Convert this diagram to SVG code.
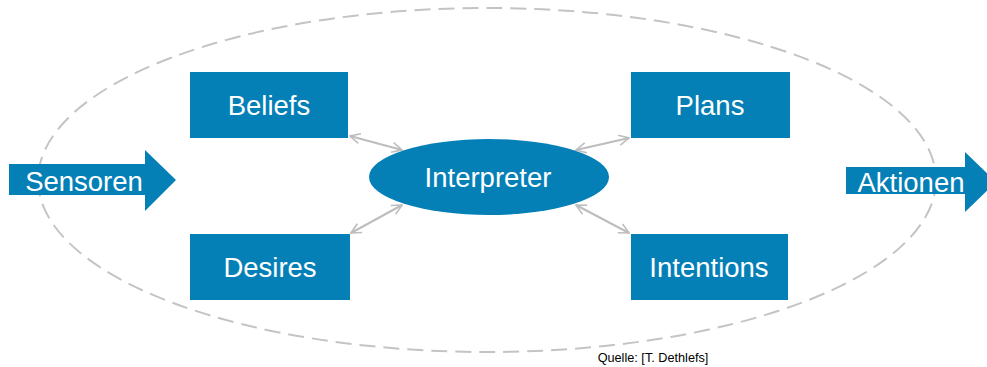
<svg xmlns="http://www.w3.org/2000/svg" width="987" height="367" viewBox="0 0 987 367">
<defs>
<style>
.box{fill:#0580b7}
.lbl{font-family:"Liberation Sans",Arial,sans-serif;font-size:27.5px;fill:#fff;text-anchor:middle}
.con{stroke:#bdbdbd;stroke-width:2;fill:none;marker-start:url(#ah);marker-end:url(#ah)}
</style>
<marker id="ah" viewBox="0 0 12 12" refX="11" refY="6" markerWidth="12" markerHeight="12" markerUnits="userSpaceOnUse" orient="auto-start-reverse">
<path d="M1,1 L11,6 L1,11" fill="none" stroke="#bdbdbd" stroke-width="1.6"/>
</marker>
</defs>
<rect width="987" height="367" fill="#fff"/>
<ellipse cx="487" cy="180" rx="449" ry="172" fill="none" stroke="#c4c4c4" stroke-width="2" stroke-dasharray="16,8"/>
<g id="connectors">
<line class="con" x1="350" y1="136" x2="402" y2="150"/>
<line class="con" x1="629" y1="138" x2="576" y2="150"/>
<line class="con" x1="351" y1="233" x2="402" y2="205"/>
<line class="con" x1="629" y1="233" x2="576" y2="205"/>
</g>
<g id="sensoren">
<polygon class="box" points="9,164 145,164 145,150 176,180 145,211 145,195 9,195"/>
<text class="lbl" x="84" y="191">Sensoren</text>
</g>
<g id="aktionen">
<polygon class="box" points="846,167 965,167 965,152 996,182 965,212 965,194 846,194"/>
<text class="lbl" x="911" y="192">Aktionen</text>
</g>
<g id="beliefs">
<rect class="box" x="190" y="72" width="158" height="66"/>
<text class="lbl" x="269" y="115">Beliefs</text>
</g>
<g id="plans">
<rect class="box" x="631" y="72" width="159" height="66"/>
<text class="lbl" x="710" y="115">Plans</text>
</g>
<g id="desires">
<rect class="box" x="190" y="234" width="160" height="66"/>
<text class="lbl" x="270" y="277">Desires</text>
</g>
<g id="intentions">
<rect class="box" x="631" y="234" width="157" height="66"/>
<text class="lbl" x="709" y="277">Intentions</text>
</g>
<g id="interpreter">
<ellipse class="box" cx="489" cy="177" rx="120" ry="38"/>
<text class="lbl" x="488" y="187">Interpreter</text>
</g>
<text x="653" y="362" font-family="'Liberation Sans',Arial,sans-serif" font-size="12.7" fill="#000" text-anchor="middle">Quelle: [T. Dethlefs]</text>
</svg>
